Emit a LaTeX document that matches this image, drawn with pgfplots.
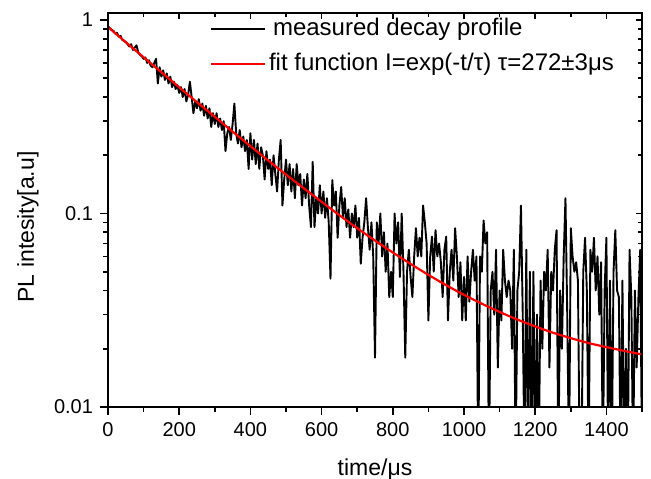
\documentclass[border=0pt]{standalone}
\usepackage{pgfplots}
\pgfplotsset{compat=1.18}
\usepackage{fontspec}
\setmainfont{Liberation Sans}
\begin{document}
\begin{tikzpicture}
\begin{axis}[name=main,
  scale only axis, width=267pt, height=197pt,
  xmin=0, xmax=1500, ymin=0.01, ymax=1.087, ymode=log,
  xtick={0,200,...,1400}, minor xtick={100,300,...,1500},
  ytick={0.01,0.1,1},
  minor ytick={0.02,0.03,0.04,0.05,0.06,0.07,0.08,0.09,0.2,0.3,0.4,0.5,0.6,0.7,0.8,0.9},
  axis line style={line width=0.8pt},
  every tick/.style={black, line width=0.8pt},
  xtick pos=left, ytick pos=left, tick align=outside,
  major tick length=4pt, minor tick length=2.5pt,
  xticklabels={\mbox{0},\mbox{200},\mbox{400},\mbox{600},\mbox{800},\mbox{1000},\mbox{1200},\mbox{1400}},
  yticklabels={\mbox{0.01},\mbox{0.1},\mbox{1}},
  ticklabel style={font=\fontsize{10}{12}\selectfont},
  xlabel={time/μs}, ylabel={PL intesity[a.u]},
  label style={font=\fontsize{11.5}{13}\selectfont},
  xlabel style={at={(axis description cs:0.5,-0.157)}, anchor=center},
  ylabel style={at={(axis description cs:-0.15,0.457)}, anchor=center},
  legend style={at={(axis description cs:0.19,0.998)}, anchor=north west,
    draw=none, fill=none, font=\fontsize{12}{14}\selectfont, row sep=3pt,
    inner sep=0pt, nodes={inner sep=1.5pt, text height=9pt, text depth=2.5pt}},
  legend cell align=left,
  legend image code/.code={\draw[#1] (0pt,0pt) -- (27pt,0pt);},
]
\addplot[black, line width=0.95pt, line join=round] table {
t y
0 0.93
5 0.91
10 0.89
15 0.88
20 0.85
25 0.86
30 0.82
35 0.83
40 0.79
45 0.78
50 0.77
55 0.75
60 0.73
65 0.75
70 0.70
75 0.72
80 0.74
85 0.68
90 0.66
95 0.65
100 0.63
105 0.64
110 0.60
115 0.62
120 0.58
125 0.57
130 0.60
135 0.63
140 0.47
145 0.57
150 0.51
155 0.55
160 0.49
165 0.53
170 0.47
175 0.51
180 0.45
185 0.48
190 0.44
195 0.46
200 0.42
205 0.45
210 0.40
215 0.44
220 0.38
225 0.41
230 0.48
235 0.40
240 0.33
245 0.38
250 0.35
255 0.39
260 0.34
265 0.37
270 0.32
275 0.36
280 0.31
285 0.35
290 0.28
295 0.33
300 0.29
305 0.33
310 0.28
315 0.31
320 0.27
325 0.30
330 0.21
335 0.26
340 0.28
345 0.24
350 0.29
355 0.37
360 0.26
365 0.23
370 0.27
375 0.22
380 0.25
385 0.21
390 0.24
395 0.17
400 0.26
405 0.19
410 0.24
415 0.18
420 0.23
425 0.17
430 0.22
435 0.20
440 0.15
445 0.21
450 0.17
455 0.19
460 0.14
465 0.20
470 0.16
475 0.13
480 0.19
485 0.24
490 0.11
495 0.15
500 0.19
505 0.14
510 0.18
515 0.13
520 0.17
525 0.12
530 0.18
535 0.14
540 0.16
545 0.11
550 0.15
555 0.12
560 0.16
565 0.11
570 0.085
575 0.185
580 0.085
585 0.12
590 0.10
595 0.14
600 0.10
605 0.13
610 0.095
615 0.12
620 0.09
625 0.046
630 0.149
635 0.11
640 0.13
645 0.075
650 0.11
655 0.137
660 0.095
665 0.12
670 0.085
675 0.105
680 0.075
685 0.10
690 0.085
695 0.11
700 0.075
705 0.095
710 0.055
715 0.075
720 0.09
725 0.12
730 0.085
735 0.065
740 0.09
745 0.06
750 0.018
755 0.09
760 0.07
765 0.10
770 0.06
775 0.08
780 0.05
785 0.07
790 0.037
795 0.05
800 0.037
805 0.10
810 0.07
815 0.09
820 0.047
825 0.10
830 0.05
835 0.018
840 0.05
845 0.065
850 0.047
855 0.037
860 0.06
865 0.084
870 0.06
875 0.075
880 0.06
885 0.11
890 0.09
895 0.07
900 0.028
905 0.06
910 0.076
915 0.05
920 0.082
925 0.06
930 0.07
935 0.056
940 0.037
945 0.065
950 0.076
955 0.028
960 0.05
965 0.065
970 0.045
975 0.084
980 0.06
985 0.037
990 0.056
995 0.028
1000 0.047
1005 0.028
1010 0.06
1015 0.035
1020 0.05
1025 0.065
1030 0.045
1035 0.06
1040 0.005
1045 0.06
1050 0.05
1055 0.092
1060 0.07
1065 0.08
1070 0.005
1075 0.04
1080 0.05
1085 0.03
1090 0.065
1095 0.016
1100 0.04
1105 0.028
1110 0.065
1115 0.045
1120 0.037
1125 0.045
1130 0.04
1135 0.02
1140 0.065
1145 0.005
1150 0.04
1155 0.05
1160 0.11
1165 0.03
1170 0.005
1175 0.065
1180 0.005
1185 0.05
1190 0.005
1195 0.05
1200 0.005
1205 0.03
1210 0.005
1215 0.045
1220 0.02
1225 0.05
1230 0.04
1235 0.065
1240 0.016
1245 0.05
1250 0.04
1255 0.065
1260 0.082
1265 0.005
1270 0.04
1275 0.02
1280 0.06
1285 0.12
1290 0.03
1295 0.005
1300 0.084
1305 0.06
1310 0.05
1315 0.056
1320 0.045
1325 0.005
1330 0.005
1335 0.05
1340 0.075
1345 0.04
1350 0.005
1355 0.065
1360 0.05
1365 0.075
1370 0.04
1375 0.06
1380 0.03
1385 0.056
1390 0.005
1395 0.04
1400 0.075
1405 0.005
1410 0.045
1415 0.005
1420 0.05
1425 0.082
1430 0.04
1435 0.037
1440 0.005
1445 0.045
1450 0.005
1455 0.02
1460 0.005
1465 0.065
1470 0.037
1475 0.005
1480 0.04
1485 0.016
1490 0.037
1495 0.065
1500 0.005
};
\addlegendentry{\hspace{2pt}measured decay profile}
\addplot[red, line width=1.1pt, smooth] table {
t y
0 0.920
50 0.768
100 0.642
150 0.537
200 0.449
250 0.376
300 0.316
350 0.265
400 0.223
450 0.188
500 0.159
550 0.135
600 0.115
650 0.098
700 0.084
750 0.0725
800 0.0629
850 0.0549
900 0.0482
950 0.0426
1000 0.0380
1050 0.0342
1100 0.0310
1150 0.0283
1200 0.0261
1250 0.0242
1300 0.0227
1350 0.0214
1400 0.0204
1450 0.0195
1500 0.0187
};
\addlegendentry{fit function I=exp(-t/τ) τ=272±3μs}
\end{axis}
\begin{axis}[
  scale only axis, width=267pt, height=197pt,
  xmin=0, xmax=1500, ymin=0.01, ymax=1.087, ymode=log,
  xtick={0,200,...,1400}, minor xtick={100,300,...,1500},
  ytick={0.01,0.1,1},
  minor ytick={0.02,0.03,0.04,0.05,0.06,0.07,0.08,0.09,0.2,0.3,0.4,0.5,0.6,0.7,0.8,0.9},
  axis line style={line width=0.8pt},
  every tick/.style={black, line width=0.8pt},
  xtick pos=right, ytick pos=right, tick align=inside,
  major tick length=3pt, minor tick length=2pt,
  xticklabels={}, yticklabels={},
]
\end{axis}
\pgfresetboundingbox
\path[use as bounding box] ([xshift=-54pt,yshift=-35.5pt]main.south west) rectangle ([xshift=4.5pt,yshift=6.5pt]main.north east);
\end{tikzpicture}
\end{document}
